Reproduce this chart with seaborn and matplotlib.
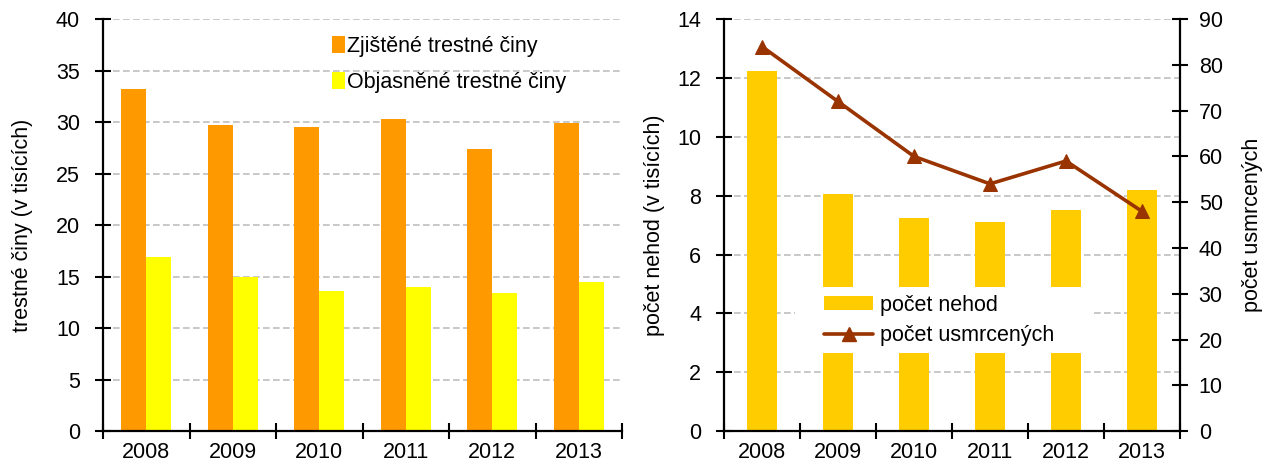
import numpy as np
import pandas as pd
import matplotlib
matplotlib.use("Agg")
import matplotlib.pyplot as plt
import seaborn as sns
from matplotlib.lines import Line2D
from matplotlib.patches import Patch, Rectangle
from matplotlib.ticker import FixedLocator, MultipleLocator

# data
years = ["2008", "2009", "2010", "2011", "2012", "2013"]
zjistene = [33.2, 29.7, 29.5, 30.3, 27.4, 29.9]
objasnene = [16.9, 15.0, 13.6, 14.0, 13.4, 14.5]
nehody = [12.25, 8.05, 7.25, 7.1, 7.5, 8.2]
usmrceni = [84, 72, 60, 54, 59, 48]

lbl_zj = "Zjištěné trestné činy"
lbl_ob = "Objasněné trestné činy"

FS = 15.5

sns.set_theme(style="white")
plt.rcParams["font.family"] = ["Liberation Sans", "DejaVu Sans"]
plt.rcParams["font.size"] = FS
plt.rcParams["text.color"] = "black"
plt.rcParams["axes.labelcolor"] = "black"
plt.rcParams["xtick.color"] = "black"
plt.rcParams["ytick.color"] = "black"

crimes = pd.DataFrame({
    "rok": years * 2,
    "hodnota": zjistene + objasnene,
    "typ": [lbl_zj] * len(years) + [lbl_ob] * len(years),
})

fig = plt.figure(figsize=(12.62, 4.66), dpi=100)
ax1 = fig.add_axes([0.0816, 0.075, 0.4114, 0.884])
ax2 = fig.add_axes([0.5737, 0.075, 0.3613, 0.884])

grid_kw = dict(color="#BFBFBF", linestyle=(0, (4, 2)), linewidth=1.2)


def style_axis(ax, ymax, step):
    ax.set_xlim(-0.5, len(years) - 0.5)
    ax.set_ylim(0, ymax)
    ax.yaxis.set_major_locator(MultipleLocator(step))
    ax.set_axisbelow(True)
    ax.yaxis.grid(True, **grid_kw)
    ax.xaxis.grid(False)
    ax.xaxis.set_minor_locator(FixedLocator(np.arange(-0.5, len(years), 1.0)))
    ax.tick_params(axis="x", which="major", length=0, pad=8, labelsize=FS)
    ax.tick_params(axis="x", which="minor", direction="inout", length=11,
                   width=1.5, bottom=True)
    ax.tick_params(axis="y", direction="inout", length=11, width=1.5,
                   pad=11, labelsize=FS, left=True)
    for s in ["top", "right"]:
        ax.spines[s].set_visible(False)
    for s in ["left", "bottom"]:
        ax.spines[s].set_color("black")
        ax.spines[s].set_linewidth(1.6)
    ax.set_xlabel("")


# left panel: crimes
sns.barplot(data=crimes, x="rok", y="hodnota", hue="typ",
            palette=["#FF9900", "#FFFF00"], width=0.58, gap=0,
            saturation=1, linewidth=0, ax=ax1)
style_axis(ax1, 40, 5)
ax1.set_ylabel("trestné činy (v tisících)", fontsize=FS)
ax1.yaxis.set_label_coords(-0.135, 0.5)
handles, labels = ax1.get_legend_handles_labels()
ax1.legend(handles, labels, loc="upper left", bbox_to_anchor=(0.425, 0.98),
           frameon=False, handlelength=0.6, handleheight=0.8,
           handletextpad=0.1, labelspacing=0.7, borderaxespad=0,
           fontsize=FS)

# right panel: accidents
sns.barplot(x=years, y=nehody, color="#FFCC00", width=0.4, saturation=1,
            linewidth=0, ax=ax2)
style_axis(ax2, 14, 2)
ax2.set_ylabel("počet nehod (v tisících)", fontsize=FS)
ax2.yaxis.set_label_coords(-0.13, 0.5)

ax3 = ax2.twinx()
sns.lineplot(x=np.arange(len(years)), y=usmrceni, color="#993300",
             linewidth=2.6, marker="^", markersize=10, markeredgecolor="#993300",
             ax=ax3)
ax3.set_xlim(-0.5, len(years) - 0.5)
ax3.set_ylim(0, 90)
ax3.yaxis.set_major_locator(MultipleLocator(10))
ax3.grid(False)
for s in ["top", "left", "bottom"]:
    ax3.spines[s].set_visible(False)
ax3.spines["right"].set_color("black")
ax3.spines["right"].set_linewidth(1.6)
ax3.tick_params(axis="y", direction="inout", length=11, width=1.5, pad=8,
                labelsize=FS, right=True)
ax3.set_ylabel("počet usmrcených", fontsize=FS)
ax3.yaxis.set_label_coords(1.135, 0.5)

# white legend background covering the bars
ax3.add_patch(Rectangle((0.156, 0.19), 0.654, 0.16, transform=ax3.transAxes,
                        facecolor="white", edgecolor="none", zorder=3))
leg_handles = [
    Patch(facecolor="#FFCC00", edgecolor="none"),
    Line2D([], [], color="#993300", linewidth=2.6, marker="^", markersize=10),
]
ax3.legend(leg_handles, ["počet nehod", "počet usmrcených"], loc="upper left",
           bbox_to_anchor=(0.2, 0.352), frameon=False, handlelength=2.3,
           handleheight=0.65, handletextpad=0.3, labelspacing=0.45,
           borderaxespad=0, numpoints=1, fontsize=FS).set_zorder(5)

fig.savefig("out.png", dpi=100)
